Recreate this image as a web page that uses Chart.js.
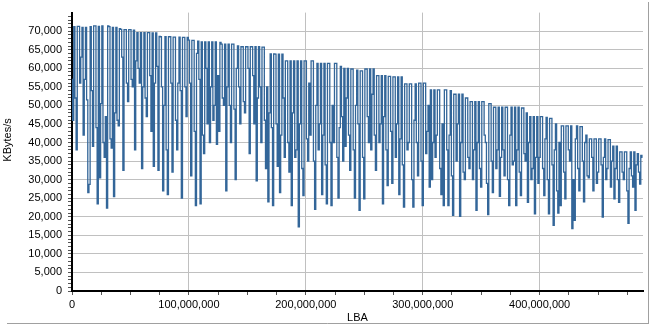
<!DOCTYPE html>
<html>
<head>
<meta charset="utf-8">
<script src="https://cdn.jsdelivr.net/npm/chart.js@4"></script>
<style>
  html, body { margin: 0; padding: 0; background: #fff; }
</style>
</head>
<body>
<canvas id="transferChart" width="651" height="327"></canvas>
<script>
// transfer rate along the disk, one sample every 1,000,000 sectors
const lbaMax = 488397168;
const lbaStep = 1000000;
const lbaTicks = [
  0, 25000000, 50000000, 75000000, 100000000, 125000000, 150000000, 175000000,
  200000000, 225000000, 250000000, 275000000, 300000000, 325000000, 350000000,
  375000000, 400000000, 425000000, 450000000, 475000000
];
const kbps = [
  57000, 46000, 71200, 52000, 38000, 71300, 71300, 56000, 63000, 71000,
  42000, 57000, 71000, 51500, 26500, 28700, 71200, 54000, 39000, 71400,
  71400, 44000, 23500, 71300, 30500, 50500, 71400, 40000, 36000, 47000,
  22300, 71400, 71200, 41000, 38500, 71000, 25400, 48000, 71000, 46000,
  44500, 70700, 70500, 63000, 32500, 70400, 70400, 56000, 51000, 70400,
  70400, 57000, 55000, 70300, 38000, 62000, 69600, 60000, 56000, 69600,
  33000, 55000, 69600, 52000, 47000, 69600, 69600, 58000, 43000, 69500,
  33600, 56000, 69500, 60500, 32500, 68600, 68500, 55000, 27000, 50000,
  68500, 38000, 26000, 68500, 68500, 56000, 32000, 68400, 68400, 46000,
  38000, 56000, 68400, 54000, 25000, 68300, 68300, 55000, 47000, 68300,
  67600, 56000, 31000, 67500, 67500, 43000, 23000, 64000, 67300, 57000,
  23500, 67100, 42000, 37000, 67100, 60000, 45000, 67100, 40000, 55000,
  67100, 46000, 50000, 67100, 39500, 58000, 43000, 67000, 66500, 52000,
  50000, 66500, 27000, 55000, 66500, 50000, 40000, 66500, 66500, 49000,
  30000, 60000, 66000, 55000, 45000, 65800, 65800, 51000, 48000, 65800,
  65800, 60000, 37000, 65800, 65800, 58000, 45000, 65800, 29700, 52000,
  65800, 55000, 40000, 65700, 65700, 46000, 33000, 55000, 24000, 48000,
  63900, 44000, 23000, 63900, 63800, 45000, 33600, 63800, 26500, 42000,
  63800, 52000, 36000, 62000, 62000, 40000, 32000, 62000, 23000, 48000,
  62000, 36000, 38000, 62000, 17300, 45000, 62000, 33000, 25700, 62000,
  62000, 41000, 35000, 56000, 42000, 62000, 62000, 35000, 22000, 50000,
  61300, 38000, 45000, 61300, 26000, 42000, 61300, 34000, 23500, 61300,
  61300, 40000, 23000, 50000, 40000, 61300, 61300, 36000, 25000, 44000,
  60500, 47000, 35000, 60000, 39000, 52000, 60000, 42000, 32500, 59800,
  59800, 38000, 25000, 50000, 59500, 45000, 21700, 59300, 59300, 36000,
  24800, 59800, 59800, 47000, 40000, 59800, 38000, 53000, 59800, 42000,
  32500, 58000, 58000, 40000, 45000, 58000, 23500, 47000, 58000, 38000,
  28400, 57800, 57800, 43000, 29000, 57700, 57700, 36000, 45000, 57700,
  26000, 41000, 57700, 34000, 22600, 55800, 55800, 38000, 40000, 55800,
  55800, 30000, 22600, 46000, 55800, 40000, 31000, 56000, 56000, 35000,
  23000, 56000, 56000, 37000, 43000, 50000, 28000, 54200, 30000, 40000,
  54200, 36000, 42000, 54200, 54200, 33000, 26000, 45000, 23000, 54200,
  54200, 38000, 23000, 42000, 54000, 31000, 20400, 53000, 53000, 35000,
  45000, 53000, 20100, 40000, 53000, 32000, 30000, 52000, 52000, 36000,
  33000, 51000, 51000, 30000, 38000, 51000, 21700, 40000, 51000, 33000,
  28000, 51000, 51000, 42000, 40000, 29000, 20600, 50500, 50500, 35000,
  26500, 49500, 49500, 33000, 38000, 49500, 25500, 36000, 49500, 38000,
  31000, 49500, 49500, 30000, 23000, 42000, 49500, 34000, 35000, 49500,
  23000, 38000, 49500, 32000, 25700, 49300, 49300, 37000, 35000, 48000,
  23900, 40000, 47000, 30000, 33000, 47000, 20800, 36000, 47000, 29000,
  36000, 47000, 47000, 33000, 25700, 41000, 46800, 30000, 20800, 46500,
  46500, 34000, 17700, 38000, 45000, 27000, 21000, 40000, 23000, 44500,
  44500, 32000, 24800, 44500, 44500, 38000, 35000, 44500, 16800, 30000,
  19000, 41000, 44500, 33000, 27000, 44300, 44300, 35000, 24000, 40000,
  42000, 31000, 30500, 41000, 41000, 36000, 27000, 41000, 41000, 29000,
  32000, 41000, 41000, 34000, 19900, 36000, 41000, 30000, 33000, 40800,
  40800, 28000, 35000, 39000, 24800, 33000, 39000, 30000, 23900, 37500,
  37500, 32000, 30000, 37500, 37500, 27000, 18200, 33000, 37500, 31000,
  28000, 37500, 21700, 34000, 37000, 32000, 28800, 36500, 36000
];

const points = kbps.map((v, i) => ({ x: i * lbaStep, y: v }));
const font = { family: 'Liberation Sans, Arial, sans-serif', size: 11 };
const clear = 'rgba(0,0,0,0)';

// y title sits a little above the plot centre, plus the light grey frame
const framePlugin = {
  id: 'frame',
  afterDraw(chart) {
    const c = chart.ctx;
    c.save();
    c.strokeStyle = '#a0a0a0';
    c.lineWidth = 1;
    c.beginPath();
    c.moveTo(7, 323.5);
    c.lineTo(648.5, 323.5);
    c.moveTo(648.5, 2);
    c.lineTo(648.5, 324);
    c.stroke();

    c.fillStyle = '#000';
    c.font = '11px ' + font.family;
    c.textAlign = 'center';
    c.textBaseline = 'middle';
    c.translate(7.5, 140);
    c.rotate(-Math.PI / 2);
    c.fillText('KBytes/s', 0, 0);
    c.restore();
  }
};

new Chart(document.getElementById('transferChart').getContext('2d'), {
  type: 'line',
  data: {
    datasets: [{
      data: points,
      borderColor: '#336699',
      borderWidth: 1.3,
      pointRadius: 0,
      stepped: 'middle',
      fill: false
    }]
  },
  options: {
    responsive: false,
    animation: false,
    layout: { padding: { left: 0, right: 8, top: 8, bottom: 0 } },
    plugins: { legend: { display: false }, tooltip: { enabled: false } },
    scales: {
      x: {
        type: 'linear',
        min: 0,
        max: lbaMax,
        afterFit: s => { s.height = 36; },
        afterBuildTicks: s => { s.ticks = lbaTicks.map(v => ({ value: v })); },
        ticks: {
          autoSkip: false,
          maxRotation: 0,
          padding: 3,
          color: '#000',
          font,
          callback: v => v % 100000000 === 0 ? v.toLocaleString('en-US') : ''
        },
        grid: {
          color: ctx => (ctx.tick && ctx.tick.value > 0 && ctx.tick.value % 100000000 === 0) ? '#c0c0c0' : clear,
          tickColor: '#555',
          tickLength: 4
        },
        border: { color: '#000', width: 2 },
        title: { display: true, text: 'LBA', color: '#000', font, padding: { top: 0, bottom: 2 } }
      },
      y: {
        min: 0,
        max: 75000,
        afterFit: s => { s.width = 72; },
        ticks: {
          stepSize: 1000,
          autoSkip: false,
          padding: 6,
          color: '#000',
          font,
          callback: v => (v % 5000 === 0 && v < 75000) ? v.toLocaleString('en-US') : ''
        },
        grid: {
          color: ctx => (ctx.tick && ctx.tick.value > 0 && ctx.tick.value < 75000 && ctx.tick.value % 5000 === 0) ? '#c0c0c0' : clear,
          tickColor: ctx => (ctx.tick && ctx.tick.value < 75000) ? '#555' : clear,
          tickLength: 4
        },
        border: { color: '#000', width: 2 },
        title: { display: false }
      }
    }
  },
  plugins: [framePlugin]
});
</script>
</body>
</html>
